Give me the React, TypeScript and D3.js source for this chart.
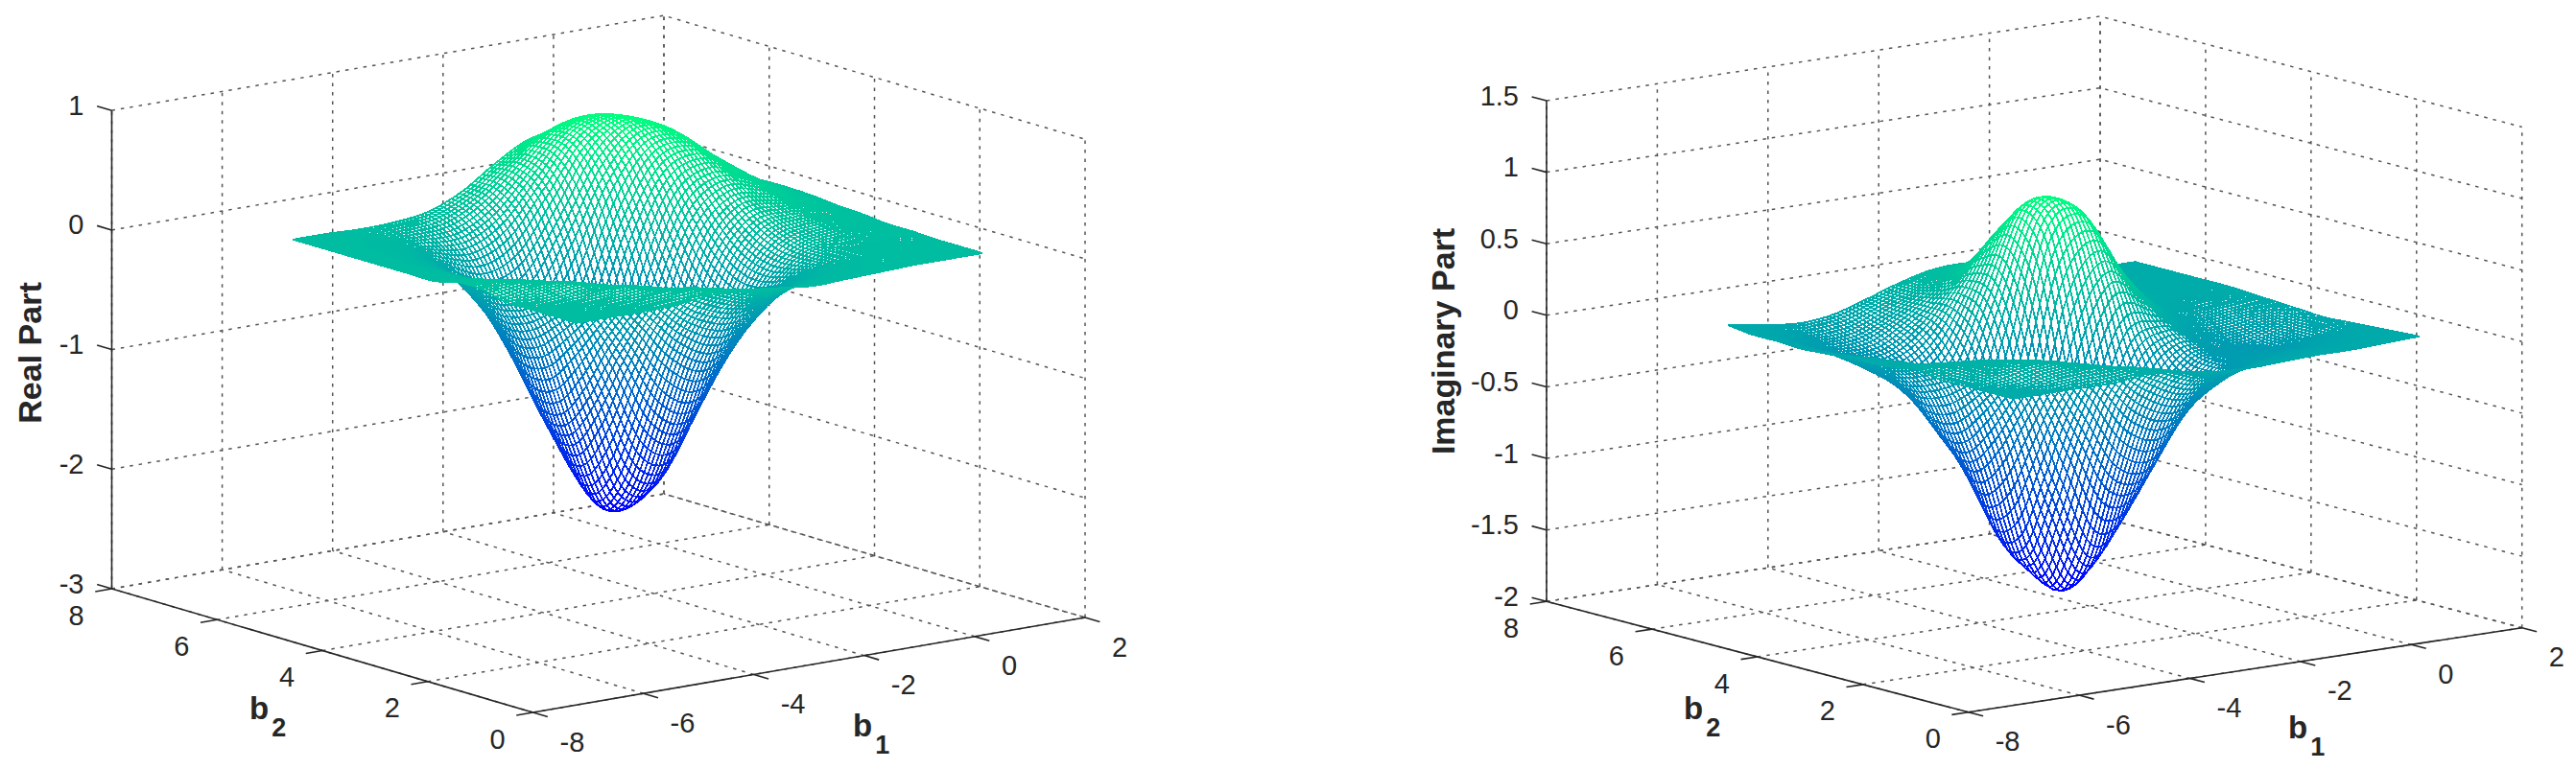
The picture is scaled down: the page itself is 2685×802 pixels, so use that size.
import { useEffect, useRef } from 'react';
import * as d3 from 'd3';

// axis ticks
const b1Ticks = [-8, -6, -4, -2, 0, 2];
const b2Ticks = [0, 2, 4, 6, 8];
const realTicks = [-3, -2, -1, 0, 1];
const imagTicks = [-2, -1.5, -1, -0.5, 0, 0.5, 1, 1.5];

// surface nodes, values (rows = b2, columns = b1)
const b1Nodes = [-6.3, -5.69, -5.08, -4.46, -3.85, -3.24, -2.63, -2.01, -1.4, -0.79, -0.18, 0.44, 1.05];
const b2Nodes = [0.95, 1.4, 1.85, 2.3, 2.75, 3.2, 3.65, 4.1, 4.55, 5.0, 5.45, 5.9, 6.35];

const realZ = [
  [0, 0, 0, 0.01, 0.04, 0.03, 0, -0.03, -0.02, -0.01, 0, 0, 0],
  [0, 0, 0.01, 0.04, 0.04, -0.04, -0.13, -0.11, -0.06, -0.02, 0, 0, 0],
  [0, 0.01, 0.04, 0.05, -0.08, -0.27, -0.36, -0.3, -0.15, -0.05, 0, 0, 0],
  [0, 0.05, 0.07, -0.06, -0.35, -0.67, -0.81, -0.61, -0.28, -0.07, 0, 0.01, 0.01],
  [0.05, 0.07, -0.01, -0.26, -0.73, -1.28, -1.4, -0.95, -0.38, -0.06, 0.03, 0.03, 0.01],
  [0.05, 0.02, -0.11, -0.46, -1.18, -1.88, -1.88, -1.13, -0.36, 0.02, 0.09, 0.06, 0.03],
  [0, -0.03, -0.17, -0.64, -1.48, -2.15, -1.93, -0.98, -0.17, 0.17, 0.18, 0.11, 0.04],
  [0, -0.04, -0.2, -0.68, -1.44, -1.88, -1.47, -0.54, 0.15, 0.37, 0.3, 0.16, 0.06],
  [0, -0.04, -0.18, -0.56, -1.07, -1.24, -0.75, 0, 0.48, 0.56, 0.39, 0.2, 0.07],
  [0, -0.03, -0.13, -0.36, -0.6, -0.56, -0.12, 0.42, 0.7, 0.67, 0.44, 0.21, 0.07],
  [0, -0.02, -0.07, -0.17, -0.23, -0.09, 0.26, 0.63, 0.76, 0.66, 0.41, 0.19, 0.06],
  [0, -0.01, -0.03, -0.05, -0.03, 0.12, 0.38, 0.63, 0.7, 0.56, 0.33, 0.14, 0.05],
  [0, 0, -0.01, 0, 0.04, 0.16, 0.35, 0.5, 0.52, 0.4, 0.22, 0.09, 0.03],
];

const imagZ = [
  [0, 0, 0, 0, 0.03, 0, -0.03, -0.04, -0.03, -0.02, -0.02, -0.01, 0],
  [0, 0, 0.05, 0.06, 0.03, -0.05, -0.15, -0.14, -0.08, -0.06, -0.05, -0.03, -0.01],
  [0, 0.05, 0.09, 0.05, -0.09, -0.35, -0.45, -0.32, -0.16, -0.11, -0.1, -0.06, -0.02],
  [0, 0.06, 0.06, -0.07, -0.46, -0.89, -0.91, -0.5, -0.2, -0.15, -0.15, -0.1, -0.03],
  [0.03, 0.04, -0.02, -0.34, -0.99, -1.51, -1.19, -0.49, -0.17, -0.16, -0.17, -0.1, -0.04],
  [0, -0.02, -0.15, -0.64, -1.46, -1.7, -0.91, -0.18, -0.03, -0.11, -0.13, -0.08, -0.03],
  [-0.01, -0.05, -0.25, -0.83, -1.44, -1.16, -0.14, 0.33, 0.16, -0.03, -0.08, -0.05, -0.02],
  [-0.02, -0.08, -0.31, -0.75, -0.96, -0.33, 0.58, 0.72, 0.32, 0.04, -0.03, -0.02, -0.01],
  [-0.03, -0.11, -0.3, -0.5, -0.41, 0.17, 0.77, 0.76, 0.35, 0.07, 0, -0.01, 0],
  [-0.04, -0.12, -0.25, -0.29, -0.14, 0.24, 0.6, 0.56, 0.27, 0.07, 0.01, 0, 0],
  [-0.03, -0.11, -0.19, -0.18, -0.04, 0.16, 0.35, 0.33, 0.18, 0.06, 0.02, 0, 0],
  [-0.03, -0.08, -0.13, -0.11, -0.01, 0.11, 0.22, 0.21, 0.14, 0.06, 0.02, 0, 0],
  [-0.01, -0.04, -0.07, -0.05, 0.02, 0.1, 0.16, 0.17, 0.12, 0.06, 0.02, 0, 0],
];

const meshStep = 0.07;
const textColor = '#262626';
const font = '"Liberation Sans", Arial, sans-serif';

// Catmull-Rom weight through four neighbouring nodes
function cubic(a: number, b: number, c: number, d: number, t: number) {
  return b + 0.5 * t * (c - a + t * (2 * a - 5 * b + 4 * c - d + t * (3 * (b - c) + d - a)));
}

function sampleSurface(grid: number[][], b1: number, b2: number) {
  const iScale = d3.scaleLinear().domain([b1Nodes[0], b1Nodes[12]]).range([0, 12]);
  const jScale = d3.scaleLinear().domain([b2Nodes[0], b2Nodes[12]]).range([0, 12]);
  const fi = Math.min(iScale(b1), 11.9999);
  const fj = Math.min(jScale(b2), 11.9999);
  const i = Math.floor(fi);
  const j = Math.floor(fj);
  const clamp = (v: number) => Math.max(0, Math.min(12, v));
  const row = (r: number) =>
    cubic(grid[r][clamp(i - 1)], grid[r][i], grid[r][i + 1], grid[r][clamp(i + 2)], fi - i);
  return cubic(row(clamp(j - 1)), row(j), row(j + 1), row(clamp(j + 2)), fj - j);
}

interface Panel {
  origin: [number, number];
  v1: [number, number];
  v2: [number, number];
  height: number;
  zTicks: number[];
  grid: number[][];
  zLabel: string;
  zLabelX: number;
  zLabelY: number;
  b1Label: [number, number];
  b2Label: [number, number];
}

const panels: Panel[] = [
  {
    origin: [555.5, 743],
    v1: [575.5, -99],
    v2: [-439, -129],
    height: 498.8,
    zTicks: realTicks,
    grid: realZ,
    zLabel: 'Real Part',
    zLabelX: 43,
    zLabelY: 368,
    b1Label: [889, 768],
    b2Label: [260, 750],
  },
  {
    origin: [2051.7, 742.7],
    v1: [577, -88],
    v2: [-439.7, -115.4],
    height: 522.3,
    zTicks: imagTicks,
    grid: imagZ,
    zLabel: 'Imaginary Part',
    zLabelX: 1516,
    zLabelY: 356,
    b1Label: [2385, 770],
    b2Label: [1755, 750],
  },
];

function drawPanel(root: d3.Selection<SVGSVGElement, unknown, null, undefined>, p: Panel) {
  const g = root.append('g');
  const t1 = d3.scaleLinear().domain([-8, 2]).range([0, 1]);
  const t2 = d3.scaleLinear().domain([0, 8]).range([0, 1]);
  const tz = d3.scaleLinear().domain(d3.extent(p.zTicks) as [number, number]).range([0, 1]);
  const [zMin, zMax] = tz.domain();

  const project = (b1: number, b2: number, z: number): [number, number] => [
    p.origin[0] + t1(b1) * p.v1[0] + t2(b2) * p.v2[0],
    p.origin[1] + t1(b1) * p.v1[1] + t2(b2) * p.v2[1] - tz(z) * p.height,
  ];
  const line = d3.line<[number, number]>();

  // dotted grid on the two back walls and the floor
  const gridLines: [number, number][][] = [];
  b1Ticks.forEach((b) => {
    gridLines.push([project(b, 0, zMin), project(b, 8, zMin)]);
    gridLines.push([project(b, 8, zMin), project(b, 8, zMax)]);
  });
  b2Ticks.forEach((b) => {
    gridLines.push([project(-8, b, zMin), project(2, b, zMin)]);
    gridLines.push([project(2, b, zMin), project(2, b, zMax)]);
  });
  p.zTicks.forEach((z) => {
    gridLines.push([project(-8, 8, z), project(2, 8, z), project(2, 0, z)]);
  });
  g.append('g')
    .selectAll('path')
    .data(gridLines)
    .join('path')
    .attr('d', (d) => line(d))
    .attr('fill', 'none')
    .attr('stroke', '#555')
    .attr('stroke-width', 1.5)
    .attr('stroke-dasharray', '3.5 6');

  // box edges and ticks
  const axisLines: [number, number][][] = [
    [project(-8, 8, zMin), project(-8, 8, zMax)],
    [project(-8, 8, zMin), project(-8, 0, zMin)],
    [project(-8, 0, zMin), project(2, 0, zMin)],
  ];
  p.zTicks.forEach((z) => axisLines.push([project(-8, 8, z), project(-8, 8.28, z)]));
  b1Ticks.forEach((b) => axisLines.push([project(b, 0, zMin), project(b, -0.28, zMin)]));
  b2Ticks.forEach((b) => axisLines.push([project(-8, b, zMin), project(-8.3, b, zMin)]));
  g.append('g')
    .selectAll('path')
    .data(axisLines)
    .join('path')
    .attr('d', (d) => line(d))
    .attr('fill', 'none')
    .attr('stroke', textColor)
    .attr('stroke-width', 1.6);

  // mesh, painted from the back corner to the front so nearer cells hide farther ones
  const b1Mesh = d3.range(b1Nodes[0], b1Nodes[12] + 0.001, meshStep);
  const b2Mesh = d3.range(b2Nodes[0], b2Nodes[12] + 0.001, meshStep);
  const z = b2Mesh.map((b2) => b1Mesh.map((b1) => sampleSurface(p.grid, b1, b2)));
  const color = d3
    .scaleLinear<string>()
    .domain([d3.min(z, (r) => d3.min(r)) as number, d3.max(z, (r) => d3.max(r)) as number])
    .range(['#0000ff', '#00ff80']);

  const mesh = g.append('g').attr('shape-rendering', 'crispEdges');
  for (let j = b2Mesh.length - 2; j >= 0; j--) {
    for (let i = b1Mesh.length - 2; i >= 0; i--) {
      const corners = [
        project(b1Mesh[i], b2Mesh[j], z[j][i]),
        project(b1Mesh[i + 1], b2Mesh[j], z[j][i + 1]),
        project(b1Mesh[i + 1], b2Mesh[j + 1], z[j + 1][i + 1]),
        project(b1Mesh[i], b2Mesh[j + 1], z[j + 1][i]),
      ];
      mesh
        .append('path')
        .attr('d', line(corners) + 'Z')
        .attr('fill', '#fff')
        .attr('stroke', color((z[j][i] + z[j][i + 1] + z[j + 1][i + 1] + z[j + 1][i]) / 4))
        .attr('stroke-width', 1.8);
    }
  }

  // tick labels
  const label = (x: number, y: number, text: string, anchor: string) =>
    g
      .append('text')
      .attr('x', x)
      .attr('y', y)
      .attr('text-anchor', anchor)
      .attr('dominant-baseline', 'central')
      .attr('font-family', font)
      .attr('font-size', 29)
      .attr('fill', textColor)
      .text(text);

  p.zTicks.forEach((v) => {
    const [x, y] = project(-8, 8, v);
    label(x - 29, y - 5.5, String(v), 'end');
  });
  b1Ticks.forEach((b) => {
    const [x, y] = project(b, 0, zMin);
    label(x + 28, y + 30.5, String(b), 'start');
  });
  b2Ticks.forEach((b) => {
    const [x, y] = project(-8, b, zMin);
    label(x - 37, y + 27.5, String(b), 'middle');
  });

  // axis titles
  g.append('text')
    .attr('transform', `translate(${p.zLabelX},${p.zLabelY}) rotate(-90)`)
    .attr('text-anchor', 'middle')
    .attr('font-family', font)
    .attr('font-weight', 'bold')
    .attr('font-size', 34)
    .attr('fill', textColor)
    .text(p.zLabel);

  const subscripted = (pos: [number, number], sub: string) => {
    const t = g
      .append('text')
      .attr('x', pos[0])
      .attr('y', pos[1])
      .attr('font-family', font)
      .attr('font-weight', 'bold')
      .attr('font-size', 33)
      .attr('fill', textColor)
      .text('b');
    t.append('tspan').attr('dx', 3).attr('dy', 18).attr('font-size', 27).text(sub);
  };
  subscripted(p.b1Label, '1');
  subscripted(p.b2Label, '2');
}

export default function App() {
  const svgRef = useRef<SVGSVGElement>(null);

  useEffect(() => {
    if (!svgRef.current) return;
    const svg = d3.select(svgRef.current);
    svg.selectAll('*').remove();
    panels.forEach((p) => drawPanel(svg, p));
  }, []);

  return (
    <svg
      ref={svgRef}
      width={2685}
      height={802}
      viewBox="0 0 2685 802"
      style={{ position: 'absolute', left: 0, top: 0, display: 'block', background: '#fff' }}
    />
  );
}
